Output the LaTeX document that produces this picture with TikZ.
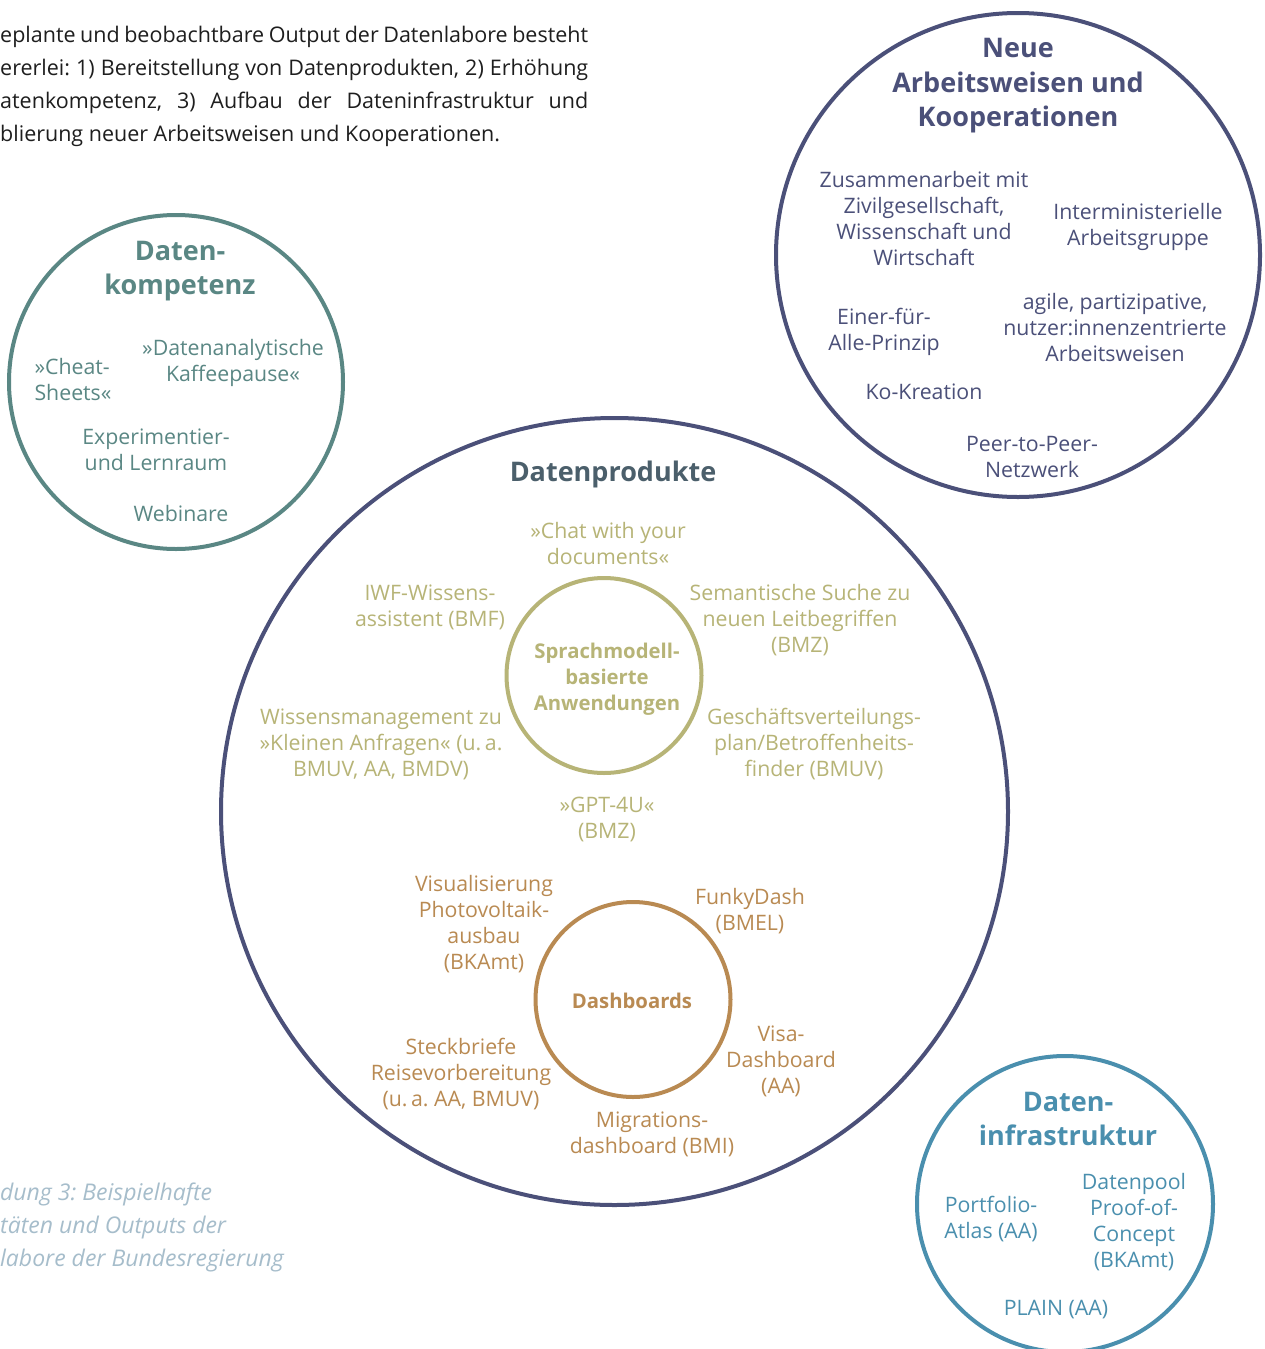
\documentclass[tikz,border=0pt]{standalone}
\usepackage{fontspec}
\setmainfont{Open Sans}
\frenchspacing
\definecolor{teal}{HTML}{5A8784}
\definecolor{navy}{HTML}{4B5079}
\definecolor{slate}{HTML}{4B5F6B}
\definecolor{olive}{HTML}{B7B477}
\definecolor{brown}{HTML}{B98A52}
\definecolor{blue}{HTML}{4A8FAE}
\definecolor{captc}{HTML}{A6BDCB}
\definecolor{body}{HTML}{1E1E1E}
\begin{document}
\begin{tikzpicture}[x=1pt,y=-1pt,
  ring/.style={circle, draw, line width=4pt, inner sep=0pt},
  lbl/.style={align=center, inner sep=0pt, font=\frenchspacing\fontsize{21.3}{26}\selectfont},
  ttl/.style={align=center, inner sep=0pt, font=\fontsize{27}{34.5}\selectfont\bfseries},
  sub/.style={align=center, inner sep=0pt, font=\fontsize{20.3}{26}\selectfont\bfseries},
  para/.style={inner sep=0pt, anchor=base west, font=\frenchspacing\fontsize{21.5}{33}\selectfont, text=body},
  captxt/.style={inner sep=0pt, anchor=base west, font=\frenchspacing\fontsize{23}{33}\selectfont\itshape, text=captc}
]
\useasboundingbox (0,0) rectangle (1264,1349);
\fill[white] (0,0) rectangle (1264,1349);

% intro paragraph
\node[para] (p1) at (0,42) {\makebox[588pt][s]{eplante und beobachtbare Output der Datenlabore besteht}};
\node[para] (p2) at (0,75) {\makebox[588pt][s]{ererlei: 1) Bereitstellung von Datenprodukten, 2) Erhöhung}};
\node[para] (p3) at (0,108) {\makebox[588pt][s]{atenkompetenz, 3) Aufbau der Dateninfrastruktur und}};
\node[para] (p4) at (0,141) {blierung neuer Arbeitsweisen und Kooperationen.};

% caption
\node[captxt] (c1) at (0,1200) {dung 3: Beispielhafte};
\node[captxt] (c2) at (0,1233) {täten und Outputs der};
\node[captxt] (c3) at (0,1266) {labore der Bundesregierung};

% Datenkompetenz
\node[ring, draw=teal, minimum size=334pt] (dk) at (176,382) {};
\begin{scope}[every node/.append style={text=teal}]
\node[ttl] (dkt) at (180,271) {Daten-\\kompetenz};
\node[lbl, align=left] (dk1) at (73,380) {»Cheat-\\Sheets«};
\node[lbl] (dk2) at (233,363) {»Datenanalytische\\Kaffeepause«};
\node[lbl] (dk3) at (156,450) {Experimentier-\\und Lernraum};
\node[lbl] (dk4) at (181,514) {Webinare};
\end{scope}

% Neue Arbeitsweisen
\node[ring, draw=navy, minimum size=484pt] (na) at (1018,255) {};
\begin{scope}[every node/.append style={text=navy}]
\node[ttl] (nat) at (1018,86) {Neue\\Arbeitsweisen und\\Kooperationen};
\node[lbl] (na1) at (924,219) {Zusammenarbeit mit\\Zivilgesellschaft,\\Wissenschaft und\\Wirtschaft};
\node[lbl] (na2) at (1138,227) {Interministerielle\\Arbeitsgruppe};
\node[lbl] (na3) at (884,332) {Einer-für-\\Alle-Prinzip};
\node[lbl] (na4) at (1115,328) {agile, partizipative,\\nutzer:innenzentrierte\\Arbeitsweisen};
\node[lbl] (na5) at (924,392) {Ko-Kreation};
\node[lbl] (na6) at (1032,457) {Peer-to-Peer-\\Netzwerk};
\end{scope}

% Datenprodukte
\node[ring, draw=navy, minimum size=787pt] (dp) at (614.5,811.5) {};
\node[ttl, text=slate] (dpt) at (613,474) {Datenprodukte};

\node[ring, draw=olive, minimum size=195pt] (sm) at (604,675.5) {};
\begin{scope}[every node/.append style={text=olive}]
\node[sub] (smt) at (607,679) {Sprachmodell-\\basierte\\Anwendungen};
\node[lbl] (s1) at (608,544) {»Chat with your\\documents«};
\node[lbl] (s2) at (430,607) {IWF-Wissens-\\assistent (BMF)};
\node[lbl] (s3) at (800,620) {Semantische Suche zu\\neuen Leitbegriffen\\(BMZ)};
\node[lbl] (s4) at (381,744) {Wissensmanagement zu\\»Kleinen Anfragen« (u.\,a.\\BMUV, AA, BMDV)};
\node[lbl] (s5) at (814,744) {Geschäftsverteilungs-\\plan/Betroffenheits-\\finder (BMUV)};
\node[lbl] (s6) at (607,819) {»GPT-4U«\\(BMZ)};
\end{scope}

\node[ring, draw=brown, minimum size=195pt] (db) at (633,999.5) {};
\begin{scope}[every node/.append style={text=brown}]
\node[sub] (dbt) at (632,1001) {Dashboards};
\node[lbl] (d1) at (484,924) {Visualisierung\\Photovoltaik-\\ausbau\\(BKAmt)};
\node[lbl] (d2) at (750,911) {FunkyDash\\(BMEL)};
\node[lbl] (d3) at (461,1074) {Steckbriefe\\Reisevorbereitung\\(u.\,a. AA, BMUV)};
\node[lbl] (d4) at (781,1061) {Visa-\\Dashboard\\(AA)};
\node[lbl] (d5) at (652,1134) {Migrations-\\dashboard (BMI)};
\end{scope}

% Dateninfrastruktur
\node[ring, draw=blue, minimum size=296pt] (di) at (1065,1204) {};
\begin{scope}[every node/.append style={text=blue}]
\node[ttl] (dit) at (1068,1119) {Daten-\\infrastruktur};
\node[lbl] (di1) at (991,1219) {Portfolio-\\Atlas (AA)};
\node[lbl] (di2) at (1134,1222) {Datenpool\\Proof-of-\\Concept\\(BKAmt)};
\node[lbl] (di3) at (1056,1310) {PLAIN (AA)};
\end{scope}
\end{tikzpicture}
\end{document}
